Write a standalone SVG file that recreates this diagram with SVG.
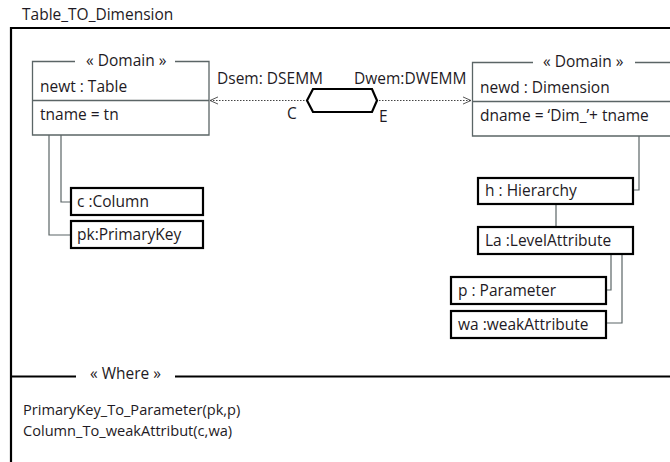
<svg xmlns="http://www.w3.org/2000/svg" width="670" height="462" viewBox="0 0 670 462">
<style>
text{font-family:"Open Sans","Liberation Sans",sans-serif;font-size:15.5px;fill:#1e1a24}
.sm{font-size:14.6px}
.dom{fill:none;stroke:#5b6566;stroke-width:1.3}
.box{fill:#fff;stroke:#000;stroke-width:2.2}
.ln{fill:none;stroke:#5b6566;stroke-width:1.2}
.frame{fill:none;stroke:#000;stroke-width:2.2}
</style>
<defs>
<marker id="oa" viewBox="0 0 10 10" refX="9" refY="5" markerWidth="9" markerHeight="9" orient="auto-start-reverse" markerUnits="userSpaceOnUse">
<path d="M0,1 L9,5 L0,9" fill="none" stroke="#444" stroke-width="1"/>
</marker>
</defs>
<rect width="670" height="462" fill="#fff"/>
<text x="22" y="20">Table_TO_Dimension</text>
<g id="frame">
<path class="frame" d="M11,470 V28 H680"/>
<path class="frame" d="M11,376.5 H76 M175,376.5 H680"/>
<text x="90" y="379">« Where »</text>
<text class="sm" x="23" y="415">PrimaryKey_To_Parameter(pk,p)</text>
<text class="sm" x="23" y="436">Column_To_weakAttribut(c,wa)</text>
</g>
<g id="connectors">
<path d="M210,100.5 H307 M376,100.5 H471" fill="none" stroke="#444" stroke-width="1" stroke-dasharray="1.5,1.5" marker-start="url(#oa)" marker-end="url(#oa)"/>
<path class="ln" d="M61,135 V202 H71 M49,135 V235 H71"/>
<path class="ln" d="M639,136 V190 H633 M556,204 V227 M611,254 V290 H606 M622,254 V323 H606"/>
</g>
<g id="hex">
<polygon points="307,100.5 313,89 372,89 377,100.5 372,112 313,112" fill="#fff" stroke="#000" stroke-width="2.2"/>
<text x="217" y="84">Dsem: DSEMM</text>
<text x="354" y="84">Dwem:DWEMM</text>
<text x="287" y="119">C</text>
<text x="379" y="122">E</text>
</g>
<g id="newt">
<path class="dom" d="M75,61.5 H32.5 V135 H209 V61.5 H175 M32.5,100.5 H209"/>
<text x="86" y="66">« Domain »</text>
<text x="40" y="92">newt : Table</text>
<text x="40" y="120">tname = tn</text>
</g>
<g id="newd">
<path class="dom" d="M533,62.5 H472.5 V136 H680 M472.5,101.5 H680 M635,62.5 H680"/>
<text x="543" y="67">« Domain »</text>
<text x="480" y="93">newd : Dimension</text>
<text x="480" y="121">dname = ‘Dim_’+ tname</text>
</g>
<g id="c">
<rect class="box" x="71" y="188" width="132" height="27"/>
<text x="77" y="207">c :Column</text>
</g>
<g id="pk">
<rect class="box" x="71" y="221" width="132" height="27"/>
<text x="77" y="240">pk:PrimaryKey</text>
</g>
<g id="h">
<rect class="box" x="478" y="178" width="155" height="26"/>
<text x="485" y="196">h : Hierarchy</text>
</g>
<g id="La">
<rect class="box" x="478" y="227" width="155" height="27"/>
<text x="485" y="246">La :LevelAttribute</text>
</g>
<g id="p">
<rect class="box" x="451" y="277" width="155" height="27"/>
<text x="458" y="296">p : Parameter</text>
</g>
<g id="wa">
<rect class="box" x="451" y="311" width="155" height="27"/>
<text x="458" y="330">wa :weakAttribute</text>
</g>
</svg>
